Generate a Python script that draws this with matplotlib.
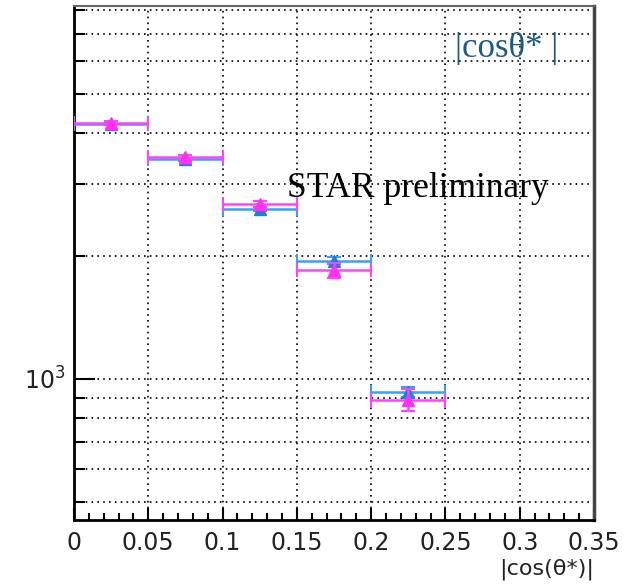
import numpy as np
import matplotlib
matplotlib.use('Agg')
import matplotlib.pyplot as plt
from matplotlib.ticker import FixedLocator, NullFormatter, MultipleLocator

# bins in |cos(theta*)|
bin_lo = [0.0, 0.05, 0.10, 0.15, 0.20]
bin_hi = [0.05, 0.10, 0.15, 0.20, 0.25]

# blue series
blue_y = [4220, 3450, 2605, 1948, 928]
blue_err = [35, 30, 30, 35, 25]
# magenta series
mag_y = [4230, 3500, 2680, 1845, 887]
mag_err = [40, 40, 40, 75, 55]

xc = [(a + b) / 2 for a, b in zip(bin_lo, bin_hi)]
xw = [(b - a) / 2 for a, b in zip(bin_lo, bin_hi)]

fig = plt.figure(figsize=(6.42, 5.85), dpi=100)
ax = fig.add_axes([0.1153, 0.1111, 0.81, 0.8786])
ax.set_yscale('log')
ax.set_xlim(0, 0.35)
ax.set_ylim(451, 8190)

ax.errorbar(xc, blue_y, xerr=xw, yerr=blue_err, fmt='^', color='#3aa0f0',
            mfc='#1f7fd8', mec='#1f7fd8', ms=9, lw=1.8, capsize=5, capthick=1.5,
            zorder=3)
ax.errorbar(xc, mag_y, xerr=xw, yerr=mag_err, fmt='^', color='#ff44ff',
            mfc='#ff33ee', mec='#ff33ee', ms=9, lw=1.8, capsize=5, capthick=1.5,
            zorder=4)

# ticks
ax.xaxis.set_minor_locator(MultipleLocator(0.01))
ax.set_xticks([0, 0.05, 0.1, 0.15, 0.2, 0.25, 0.3, 0.35])
ax.set_xticklabels(['0', '0.05', '0.1', '0.15', '0.2', '0.25', '0.3', '0.35'])
ax.yaxis.set_major_locator(FixedLocator([1000]))
ax.yaxis.set_minor_locator(FixedLocator([500, 600, 700, 800, 900, 2000, 3000,
                                         4000, 5000, 6000, 7000, 8000]))
ax.yaxis.set_minor_formatter(NullFormatter())
ax.set_yticklabels(['$10^3$'])
ax.tick_params(which='both', direction='in', top=False, right=False,
               labelsize=17, width=1.5, pad=8)
ax.tick_params(axis='y', which='major', pad=6)
ax.tick_params(axis='x', which='major', length=9)
ax.tick_params(axis='x', which='minor', length=5)
ax.tick_params(axis='y', which='major', length=15)
ax.tick_params(axis='y', which='minor', length=8)
for lab in ax.get_xticklabels() + ax.get_yticklabels():
    lab.set_fontfamily('DejaVu Sans')
    lab.set_color('#222222')

# dotted grid
ax.grid(True, which='major', axis='x', color='black', linestyle=(0, (1, 2.5)), lw=1.2)
ax.grid(True, which='both', axis='y', color='black', linestyle=(0, (1, 2.5)), lw=1.2)
ax.set_axisbelow(True)

for s in ['left', 'bottom']:
    ax.spines[s].set_linewidth(2)
    ax.spines[s].set_color('black')
ax.spines['right'].set_linewidth(2.5)
ax.spines['right'].set_color('#444444')
ax.spines['top'].set_linewidth(1.5)
ax.spines['top'].set_color('#666666')

ax.set_xlabel('|cos(θ*)|', fontsize=16, family='DejaVu Sans', color='#222222')
ax.xaxis.set_label_coords(1.0, -0.074)
ax.xaxis.label.set_horizontalalignment('right')

ax.text(0.733, 0.918, '|cosθ* |', transform=ax.transAxes, fontsize=25,
        family='Liberation Serif', color='#1d5a82', va='center', ha='left')
ax.text(0.410, 0.645, 'STAR preliminary', transform=ax.transAxes, fontsize=25.5,
        family='Liberation Serif', color='black', va='center', ha='left',
        zorder=2)

fig.savefig('out.png', dpi=100)
